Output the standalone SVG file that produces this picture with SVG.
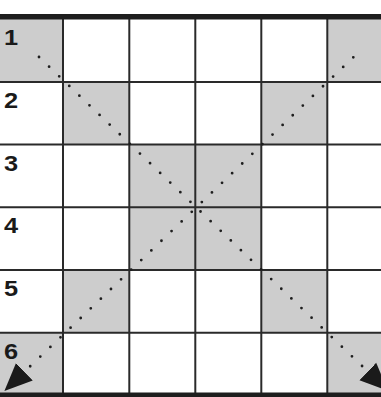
<svg xmlns="http://www.w3.org/2000/svg" width="381" height="397" viewBox="0 0 381 397">
  <style>
    .cell { fill: #cdcdcd; stroke: none; }
    .grid { stroke: #2a2a2a; stroke-width: 2; fill: none; }
    .border { stroke: #1e1e1e; fill: none; }
    .num { font-family: "Liberation Sans", Arial, sans-serif; font-weight: bold; font-size: 21.5px; fill: #1a1a1a; }
    .dots { stroke: #1e1e1e; stroke-width: 2.8; stroke-linecap: round; stroke-dasharray: 0 13.97; fill: none; }
  </style>
  <defs>
    <marker id="arrow" markerUnits="userSpaceOnUse" markerWidth="30" markerHeight="30" viewBox="0 -12 26 24" refX="0" refY="0" orient="auto">
      <path d="M0,-10.5 L24,0 L0,10.5 Z" fill="#1a1a1a"/>
    </marker>
  </defs>
  <rect width="381" height="397" fill="#ffffff"/>

  <g id="shaded-cells">
    <rect id="cell-1-1" class="cell" x="0" y="17" width="63" height="65"/>
    <rect id="cell-1-6" class="cell" x="327" y="17" width="54" height="65"/>
    <rect id="cell-2-2" class="cell" x="63" y="82" width="66" height="62.5"/>
    <rect id="cell-2-5" class="cell" x="261" y="82" width="66" height="62.5"/>
    <rect id="cell-3-3" class="cell" x="129" y="144.5" width="66" height="62.8"/>
    <rect id="cell-3-4" class="cell" x="195" y="144.5" width="66" height="62.8"/>
    <rect id="cell-4-3" class="cell" x="129" y="207.3" width="66" height="62.7"/>
    <rect id="cell-4-4" class="cell" x="195" y="207.3" width="66" height="62.7"/>
    <rect id="cell-5-2" class="cell" x="63" y="270" width="66" height="63"/>
    <rect id="cell-5-5" class="cell" x="261" y="270" width="66" height="63"/>
    <rect id="cell-6-1" class="cell" x="0" y="333" width="63" height="61"/>
    <rect id="cell-6-6" class="cell" x="327" y="333" width="54" height="61"/>
  </g>

  <g id="grid">
    <line class="grid" x1="63" y1="17" x2="63" y2="394"/>
    <line class="grid" x1="129.3" y1="17" x2="129.3" y2="394"/>
    <line class="grid" x1="195.3" y1="17" x2="195.3" y2="394"/>
    <line class="grid" x1="261.3" y1="17" x2="261.3" y2="394"/>
    <line class="grid" x1="327.3" y1="17" x2="327.3" y2="394"/>
    <line class="grid" x1="0" y1="82" x2="381" y2="82"/>
    <line class="grid" x1="0" y1="144.4" x2="381" y2="144.4"/>
    <line class="grid" x1="0" y1="207.3" x2="381" y2="207.3"/>
    <line class="grid" x1="0" y1="270" x2="381" y2="270"/>
    <line class="grid" x1="0" y1="332.8" x2="381" y2="332.8"/>
    <line class="border" x1="0" y1="16.7" x2="381" y2="16.7" stroke-width="5.5"/>
    <line class="border" x1="0" y1="394.8" x2="381" y2="394.8" stroke-width="4.5"/>
  </g>

  <g id="row-labels">
    <text id="label-1" class="num" transform="translate(4,45) scale(1.18,1)">1</text>
    <text id="label-2" class="num" transform="translate(4,108) scale(1.18,1)">2</text>
    <text id="label-3" class="num" transform="translate(4,170.5) scale(1.18,1)">3</text>
    <text id="label-4" class="num" transform="translate(4,232.5) scale(1.18,1)">4</text>
    <text id="label-5" class="num" transform="translate(4,296) scale(1.18,1)">5</text>
    <text id="label-6" class="num" transform="translate(4,359) scale(1.18,1)">6</text>
  </g>

  <g id="connectors">
    <path id="diag-tl-br" class="dots" d="M39,57 L367.8,371.5" marker-end="url(#arrow)"/>
    <path id="diag-tr-bl" class="dots" d="M353.3,57.3 L24.4,371.8" marker-end="url(#arrow)"/>
  </g>
</svg>
